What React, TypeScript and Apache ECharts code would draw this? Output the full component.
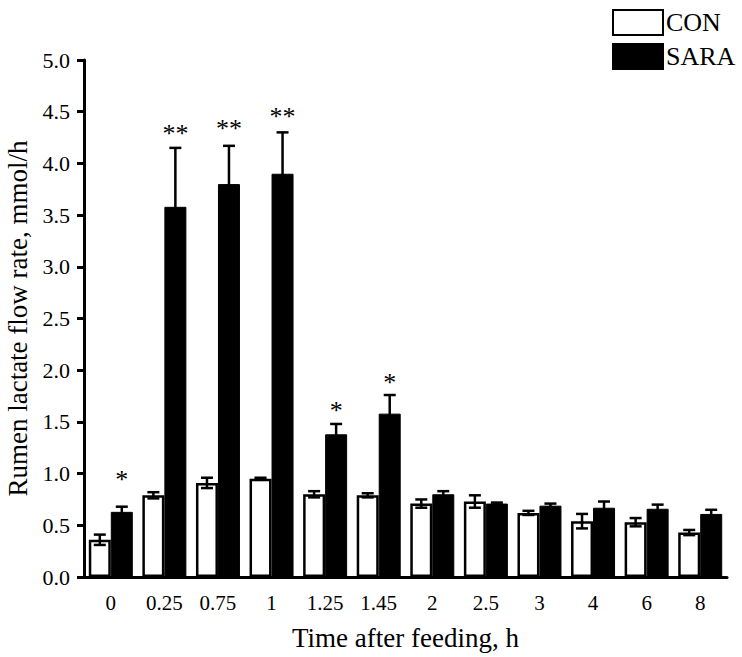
import React, { useEffect, useRef } from "react";
import * as echarts from "echarts";

const categories = ["0", "0.25", "0.75", "1", "1.25", "1.45", "2", "2.5", "3", "4", "6", "8"];
const conMean = [0.36, 0.79, 0.91, 0.95, 0.8, 0.79, 0.71, 0.73, 0.62, 0.54, 0.53, 0.43];
const conSE = [0.05, 0.03, 0.05, 0.01, 0.03, 0.02, 0.04, 0.06, 0.02, 0.07, 0.04, 0.025];
const saraMean = [0.63, 3.58, 3.8, 3.9, 1.38, 1.58, 0.8, 0.71, 0.69, 0.67, 0.66, 0.61];
const saraSE = [0.05, 0.57, 0.37, 0.4, 0.1, 0.18, 0.03, 0.01, 0.02, 0.06, 0.04, 0.04];
const sigMarks = ["*", "**", "**", "**", "*", "*", "", "", "", "", "", ""];
const sigY = [0.99, 4.34, 4.39, 4.5, 1.66, 1.93, 0, 0, 0, 0, 0, 0];

const FONT = "'Times New Roman', 'Liberation Serif', serif";
const BAR_W = 22;

function errorSeries(name: string, means: number[], ses: number[], offset: number) {
  return {
    type: "custom",
    name: name + "_err",
    z: 5,
    silent: true,
    clip: false,
    data: means.map((m, i) => [i, m, ses[i]]),
    renderItem: (params: any, api: any) => {
      const i = api.value(0);
      const m = api.value(1);
      const se = api.value(2);
      const top = api.coord([i, m + se]);
      const bot = api.coord([i, m - se]);
      const x = top[0] + offset;
      const hw = 6;
      const st = { stroke: "#000", lineWidth: 2.5 };
      return {
        type: "group",
        children: [
          { type: "line", shape: { x1: x, y1: top[1], x2: x, y2: bot[1] }, style: st },
          { type: "line", shape: { x1: x - hw, y1: top[1], x2: x + hw, y2: top[1] }, style: st },
          { type: "line", shape: { x1: x - hw, y1: bot[1], x2: x + hw, y2: bot[1] }, style: st },
        ],
      };
    },
  };
}

export default function App() {
  const ref = useRef<HTMLDivElement>(null);
  useEffect(() => {
    if (!ref.current) return;
    document.body.style.margin = "0";
    document.body.style.overflow = "hidden";
    const chart = echarts.init(ref.current, null, { renderer: "svg" });
    const option: any = {
      animation: false,
      backgroundColor: "#fff",
      textStyle: { fontFamily: FONT, color: "#000" },
      grid: { left: 84, right: 15, top: 60, bottom: 80, outerBoundsMode: "none", containLabel: false },
      legend: {
        orient: "vertical",
        left: 612,
        top: 9,
        padding: 0,
        itemWidth: 50,
        itemHeight: 25,
        itemGap: 7,
        icon: "rect",
        textStyle: { fontFamily: FONT, fontSize: 26, color: "#000", padding: [0, 0, 0, -2] },
        data: ["CON", "SARA"],
      },
      xAxis: {
        type: "category",
        data: categories,
        axisLine: { lineStyle: { color: "#000", width: 3 } },
        axisTick: { alignWithLabel: true, length: 7, lineStyle: { color: "#000", width: 3 } },
        axisLabel: { color: "#000", fontFamily: FONT, fontSize: 21, margin: 15 },
        name: "Time after feeding, h",
        nameLocation: "middle",
        nameGap: 47,
        nameTextStyle: { fontFamily: FONT, fontSize: 27, color: "#000" },
      },
      yAxis: {
        type: "value",
        min: 0,
        max: 5,
        interval: 0.5,
        splitLine: { show: false },
        axisLine: { show: true, lineStyle: { color: "#000", width: 3 } },
        axisTick: { show: true, length: 7, lineStyle: { color: "#000", width: 3 } },
        axisLabel: {
          color: "#000",
          fontFamily: FONT,
          fontSize: 22,
          margin: 14,
          formatter: (v: number) => v.toFixed(1),
        },
        name: "Rumen lactate flow rate, mmol/h",
        nameLocation: "middle",
        nameGap: 49,
        nameTextStyle: { fontFamily: FONT, fontSize: 27, color: "#000" },
      },
      series: [
        {
          name: "CON",
          type: "bar",
          data: conMean,
          barWidth: BAR_W,
          barGap: "0%",
          itemStyle: { color: "#fff", borderColor: "#000", borderWidth: 2.5 },
        },
        {
          name: "SARA",
          type: "bar",
          data: saraMean,
          barWidth: BAR_W,
          barGap: "0%",
          itemStyle: { color: "#000", borderColor: "#000", borderWidth: 1 },
        },
        errorSeries("CON", conMean, conSE, -BAR_W / 2),
        errorSeries("SARA", saraMean, saraSE, BAR_W / 2),
        {
          type: "custom",
          name: "sig",
          z: 6,
          silent: true,
          clip: false,
          data: sigMarks.map((s, i) => [i, sigY[i], s]),
          renderItem: (params: any, api: any) => {
            const i = api.value(0);
            const s = sigMarks[i];
            if (!s) return null;
            const p = api.coord([i, sigY[i]]);
            return {
              type: "text",
              x: p[0] + BAR_W / 2,
              y: p[1] + 5,
              style: {
                text: s,
                fontFamily: FONT,
                fontSize: 26,
                fill: "#000",
                align: "center",
                verticalAlign: "middle",
              },
            };
          },
        },
      ],
    };
    chart.setOption(option);
    return () => chart.dispose();
  }, []);
  return (
    <div
      ref={ref}
      style={{ position: "absolute", left: 0, top: 0, width: 742, height: 657 }}
    />
  );
}
